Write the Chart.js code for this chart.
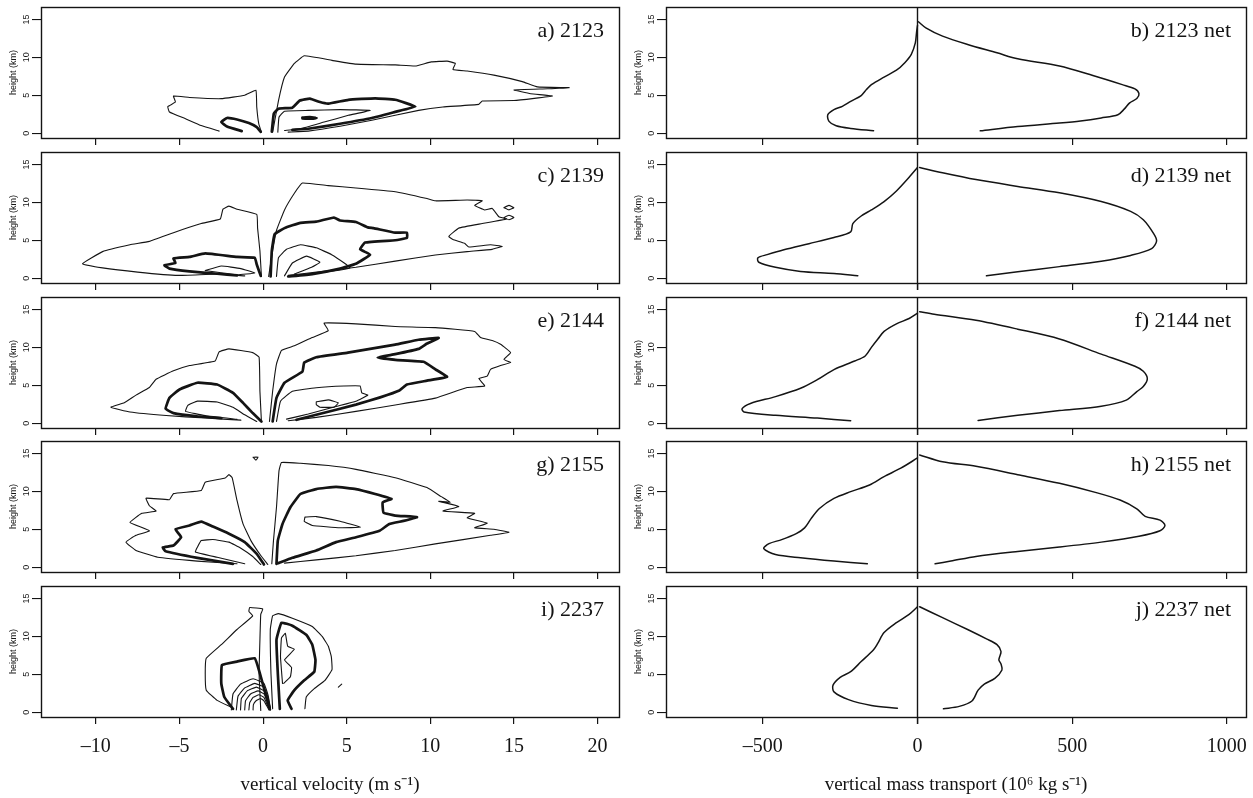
<!DOCTYPE html>
<html>
<head>
<meta charset="utf-8">
<style>
  body { margin: 0; background: #fff; width: 1253px; height: 798px; position: relative; overflow: hidden; }
  canvas { position: absolute; }
</style>
</head>
<body>
<script src="https://cdn.jsdelivr.net/npm/chart.js"></script>
<script>
// ---- axes / labels ----
const velTicks = [-10, -5, 0, 5, 10, 15, 20];
const massTicks = [-500, 0, 500, 1000];
const heightTicks = [0, 5, 10, 15];
const velRange = [-13.28, 21.28];
const massRange = [-813, 1062];
const heightRange = [-0.64, 16.64];
const leftLabels = ['a) 2123', 'c) 2139', 'e) 2144', 'g) 2155', 'i) 2237'];
const rightLabels = ['b) 2123 net', 'd) 2139 net', 'f) 2144 net', 'h) 2155 net', 'j) 2237 net'];

// ---- vertical velocity contours, [w (m/s), height (km)] ----
// 2123
const a_outerR = [[0.57,0.13],[0.92,4.3],[1.28,7.4],[1.87,9.2],[2.46,10.2],[4.12,9.6],[5.55,9.1],[7.9,9.0],[9.1,8.85],[10.05,9.4],[11.0,9.5],[11.5,9.2],[11.35,8.4],[12.2,8.2],[13.8,7.65],[15.5,6.8],[16.4,6.1],[18.3,6.0],[17.0,5.85],[15.0,5.7],[16.0,5.2],[17.3,4.9],[15.0,4.3],[13.1,4.25],[12.9,3.8],[10.75,3.45],[9.3,3.0],[6.5,1.7],[4.6,0.9],[2.7,0.27],[1.5,0.13]];
const a_outerL = [[-2.63,0.27],[-3.7,1.0],[-4.64,1.9],[-5.6,2.8],[-5.7,3.5],[-5.24,4.1],[-5.36,4.9],[-4.4,4.7],[-2.5,4.55],[-1.1,5.0],[-0.43,5.66],[-0.38,3.45],[-0.26,1.24],[-0.1,0.13]];
const a_thickR = [[0.52,0.2],[0.64,2.57],[0.92,3.23],[1.75,3.36],[2.2,4.3],[2.8,4.56],[3.4,4.1],[3.9,3.9],[5.1,4.4],[6.7,4.6],[7.9,4.4],[9.1,3.5],[7.9,2.8],[6.5,2.0],[4.6,1.24],[2.7,0.58],[1.75,0.44]];
const a_thinR = [[0.88,0.13],[0.95,2.1],[1.28,2.9],[2.7,3.0],[4.6,3.1],[6.4,3.0],[5.1,2.35],[3.65,1.46],[2.23,0.58],[1.28,0.35]];
const a_thickL = [[-1.28,0.27],[-2.16,0.88],[-2.5,1.46],[-2.16,2.0],[-1.56,1.8],[-0.85,1.33],[-0.38,0.8],[-0.14,0.18]];
const a_blob = [[2.35,2.05],[2.8,2.12],[3.2,2.0],[2.8,1.9],[2.35,1.95],[2.35,2.05]];
// 2139
const c_outerR = [[0.33,0.22],[0.57,3.6],[0.8,6.3],[1.28,9.0],[1.87,11.2],[2.35,12.55],[3.9,12.2],[5.55,11.9],[7.9,11.4],[9.8,10.5],[10.3,10.2],[12.2,10.3],[13.1,10.2],[12.65,9.6],[13.25,9.0],[13.7,9.2],[14.1,8.1],[14.55,7.8],[13.1,7.2],[11.7,6.6],[11.1,5.5],[11.35,5.1],[12.05,4.6],[12.3,4.1],[13.6,4.4],[14.3,4.2],[13.7,3.8],[12.2,3.5],[10.3,3.05],[7.9,2.24],[5.55,1.43],[3.2,0.8],[1.5,0.36]];
const c_outerL = [[-0.1,0.22],[-0.19,3.6],[-0.33,6.6],[-0.38,8.4],[-1.56,9.1],[-2.04,9.5],[-2.4,9.1],[-2.56,7.8],[-3.7,7.2],[-5.36,6.0],[-6.8,4.85],[-7.96,4.4],[-9.6,3.5],[-10.8,1.9],[-9.6,1.35],[-7.5,0.8],[-5.1,0.36],[-2.75,0.54],[-1.1,0.3]];
const c_thickL = [[-0.14,0.3],[-0.38,1.8],[-0.5,2.7],[-1.56,2.8],[-3.46,3.27],[-4.4,2.8],[-5.36,2.6],[-5.24,2.0],[-5.9,1.7],[-5.6,1.26],[-4.4,0.9],[-2.75,0.58],[-1.56,0.36]];
const c_thinL = [[-3.46,1.0],[-2.5,1.6],[-1.33,1.26],[-0.5,0.67],[-1.56,0.45],[-3.46,1.0]];
const c_thickR = [[0.45,0.22],[0.52,3.6],[0.69,5.8],[1.28,6.6],[2.23,7.3],[3.18,7.45],[4.24,8.0],[4.6,7.6],[5.55,7.4],[6.26,6.7],[6.6,6.6],[7.9,6.0],[8.6,6.0],[8.6,5.3],[7.9,5.0],[6.1,4.7],[5.8,3.8],[6.4,3.1],[5.55,1.9],[4.6,1.26],[2.94,0.54],[1.5,0.22]];
const c_thinR = [[0.8,0.22],[0.92,2.7],[1.4,3.8],[2.23,4.4],[3.18,4.0],[4.1,3.1],[4.85,2.0],[5.2,1.35],[4.1,0.9],[2.23,0.45]];
const c_innerR = [[1.28,0.3],[1.75,2.0],[2.6,2.9],[3.4,2.1],[2.9,1.43],[1.87,0.54]];
const c_dot1 = [[14.4,9.3],[14.7,9.6],[15.0,9.3],[14.7,9.0],[14.4,9.3]];
const c_dot2 = [[14.4,8.0],[14.7,8.3],[15.0,8.0],[14.7,7.7],[14.4,8.0]];
// 2144
const e_outerR = [[0.38,0.22],[0.57,4.2],[0.8,7.8],[1.1,9.6],[1.87,10.2],[2.94,11.3],[3.9,12.2],[3.65,13.2],[5.55,13.1],[7.9,12.75],[10.3,12.6],[12.65,12.1],[13.0,11.3],[13.7,10.9],[14.2,10.4],[14.8,9.3],[14.4,8.4],[14.8,8.0],[14.2,7.6],[13.6,7.1],[13.4,6.2],[12.9,5.9],[13.25,4.9],[12.2,4.7],[10.3,3.3],[7.9,2.4],[5.55,1.55],[3.18,0.76],[1.5,0.31]];
const e_outerL = [[-0.1,0.22],[-0.19,4.2],[-0.24,8.7],[-0.62,9.3],[-2.04,9.8],[-2.63,9.4],[-2.87,8.2],[-4.4,7.6],[-5.36,6.9],[-6.4,5.8],[-6.8,4.7],[-7.6,3.7],[-8.3,2.7],[-9.1,2.1],[-7.96,1.47],[-5.8,1.0],[-3.46,0.67],[-1.33,0.4]];
const e_thickL = [[-0.1,0.22],[-0.62,1.33],[-1.2,2.67],[-1.8,4.0],[-2.75,5.1],[-3.93,5.33],[-5.0,4.44],[-5.6,3.33],[-5.83,1.9],[-5.36,1.33],[-3.93,0.9],[-2.5,0.67]];
const e_thinL = [[-0.38,0.22],[-1.1,1.1],[-1.8,2.1],[-2.75,2.8],[-3.93,2.9],[-4.5,2.35],[-4.64,1.55],[-3.46,1.0],[-1.56,0.5]];
const e_thickR = [[0.57,0.22],[0.8,3.33],[1.28,5.33],[2.35,6.8],[2.46,8.0],[3.18,8.7],[5.07,9.3],[7.9,10.35],[9.3,11.0],[10.5,11.25],[9.8,10.5],[9.3,9.8],[7.9,9.1],[6.85,8.67],[7.9,8.35],[9.6,8.1],[10.3,7.1],[11.0,6.1],[9.8,5.6],[8.6,5.1],[8.15,4.3],[7.0,3.4],[5.55,2.44],[3.18,1.1],[2.0,0.44]];
const e_thinR = [[0.8,0.22],[1.04,2.9],[1.75,4.2],[3.18,4.67],[4.83,4.9],[5.8,4.9],[5.9,4.0],[6.26,3.7],[5.55,2.9],[4.36,2.2],[2.7,1.2],[1.4,0.53]];
const e_blob = [[3.18,2.8],[3.9,3.07],[4.5,2.67],[4.24,2.1],[3.4,2.1],[3.18,2.44],[3.18,2.8]];
// 2155
const g_outerR = [[0.52,0.44],[0.62,3.5],[0.8,7.9],[0.95,12.7],[1.1,13.8],[2.23,13.7],[3.9,13.4],[5.55,12.9],[7.9,11.8],[9.8,10.5],[10.65,9.3],[11.2,8.55],[10.5,8.7],[11.7,8.0],[10.75,7.4],[12.65,7.1],[12.2,6.5],[13.4,5.8],[12.65,5.2],[13.8,5.0],[14.7,4.6],[13.6,4.2],[10.3,3.07],[7.9,2.2],[5.55,1.5],[3.18,0.96],[1.28,0.53]];
const g_outerL = [[0.28,0.35],[-0.14,1.53],[-0.73,3.5],[-1.2,5.7],[-1.56,8.8],[-1.85,11.8],[-2.04,12.2],[-2.27,11.75],[-3.46,11.2],[-3.7,10.1],[-5.36,9.7],[-5.6,8.9],[-7.0,9.1],[-6.8,8.1],[-6.4,7.4],[-7.25,7.1],[-7.96,5.9],[-6.8,4.8],[-7.6,4.2],[-8.2,3.3],[-7.6,2.2],[-6.3,1.3],[-3.93,0.8],[-1.56,0.44]];
const g_thickL = [[0.05,0.35],[-0.38,1.75],[-1.1,3.3],[-2.04,4.4],[-3.0,5.35],[-3.7,6.0],[-4.4,5.5],[-5.24,5.0],[-4.9,3.95],[-5.36,2.85],[-6.0,2.6],[-5.83,2.1],[-3.93,1.23],[-1.8,0.44]];
const g_thinL = [[-0.14,0.35],[-0.62,1.4],[-1.33,2.5],[-2.04,3.3],[-3.0,3.64],[-3.7,3.5],[-3.93,2.63],[-4.05,2.0],[-2.75,1.3],[-1.1,0.44]];
const g_thickR = [[0.8,0.44],[0.88,3.5],[1.16,5.7],[1.63,7.9],[2.23,9.65],[3.18,10.3],[4.36,10.6],[5.55,10.3],[6.7,9.65],[7.68,9.0],[7.15,8.55],[7.2,7.2],[7.9,6.8],[9.2,6.6],[8.4,6.1],[7.55,5.7],[6.97,4.8],[5.55,3.95],[4.36,3.3],[3.18,2.2],[1.75,1.23],[0.92,0.53]];
const g_blob = [[2.5,6.6],[3.18,6.67],[4.6,6.05],[5.83,5.26],[4.6,5.2],[2.94,5.5],[2.46,6.05],[2.5,6.6]];
const g_dot = [[-0.6,14.5],[-0.3,14.5],[-0.43,14.1],[-0.6,14.5]];
// 2237
const i_outerL = [[-0.14,0.22],[-0.24,5.1],[-0.19,9.55],[-0.14,12.9],[-0.02,13.6],[-0.8,13.8],[-0.85,13.3],[-0.62,12.7],[-1.56,10.9],[-2.5,8.9],[-3.4,7.1],[-3.46,5.1],[-3.4,2.9],[-2.75,1.55],[-1.92,0.67]];
const i_thickL = [[-1.8,0.44],[-2.32,2.0],[-2.5,3.8],[-2.46,6.2],[-1.56,6.67],[-0.5,7.1],[-0.19,5.1],[0.14,2.44],[0.38,0.58]];
const i_arc1 = [[-1.9,0.3],[-1.8,2.4],[-1.35,3.7],[-0.6,4.4],[0.05,3.8],[0.3,2.2],[0.45,0.3]];
const i_arc2 = [[-1.6,0.3],[-1.5,2.1],[-1.1,3.2],[-0.5,3.8],[0.05,3.3],[0.3,1.9],[0.45,0.3]];
const i_arc3 = [[-1.35,0.3],[-1.3,1.8],[-0.95,2.8],[-0.4,3.3],[0.05,2.8],[0.28,1.6],[0.42,0.3]];
const i_arc4 = [[-1.1,0.3],[-1.05,1.5],[-0.75,2.4],[-0.3,2.8],[0.05,2.4],[0.25,1.4],[0.4,0.3]];
const i_arc5 = [[-0.85,0.3],[-0.8,1.25],[-0.6,1.95],[-0.25,2.3],[0.05,1.95],[0.22,1.1],[0.38,0.3]];
const i_arc6 = [[-0.6,0.3],[-0.58,1.0],[-0.42,1.5],[-0.15,1.8],[0.05,1.5],[0.2,0.9],[0.35,0.3]];
const i_outerR = [[0.57,0.44],[0.47,5.1],[0.43,10.9],[0.57,12.7],[0.92,13.0],[1.75,12.4],[2.94,11.3],[3.53,10.0],[3.9,8.7],[4.08,7.3],[4.12,5.6],[3.7,4.2],[3.06,3.1],[2.58,2.0],[2.5,0.44]];
const i_thickR = [[1.0,0.44],[0.88,5.1],[0.8,9.55],[1.1,11.8],[1.75,11.4],[2.58,10.2],[2.94,8.9],[3.13,6.9],[3.06,5.33],[2.46,4.2],[1.87,2.9],[1.47,1.55],[1.7,0.44]];
const i_innerR = [[1.16,3.8],[1.04,7.3],[1.1,9.8],[1.33,10.4],[1.47,8.7],[1.87,8.3],[1.28,6.9],[1.7,5.9],[1.63,4.67],[1.23,3.8]];
const i_dash = [[4.5,3.3],[4.7,3.7]];

// ---- net vertical mass transport, [10^6 kg/s, height (km)] ----
const b_down = [[-142,0.31],[-216,0.62],[-263,0.97],[-286,1.55],[-290,2.43],[-270,3.1],[-243,3.54],[-216,4.2],[-182,4.96],[-165,5.75],[-149,6.4],[-108,7.4],[-68,8.3],[-41,9.3],[-20,10.4],[-7,11.9],[-3,13.3],[0,14.2]];
const b_up = [[203,0.31],[324,0.88],[459,1.33],[527,1.6],[594,2.0],[648,2.43],[669,3.2],[686,4.0],[709,4.56],[716,5.2],[703,5.84],[662,6.4],[567,7.6],[459,8.85],[324,9.8],[257,10.6],[162,11.7],[81,12.8],[27,13.9],[3,14.7]];
const d_down = [[-193,0.31],[-270,0.62],[-378,0.89],[-459,1.43],[-513,2.1],[-516,2.68],[-486,3.1],[-432,3.75],[-351,4.55],[-270,5.36],[-216,6.1],[-209,7.2],[-182,8.2],[-149,9.0],[-108,10.1],[-68,11.5],[-27,13.3],[0,14.6]];
const d_up = [[223,0.31],[324,0.85],[459,1.52],[594,2.23],[689,3.0],[757,3.9],[773,4.9],[763,5.9],[730,7.7],[689,8.8],[594,10.1],[459,11.25],[324,12.1],[189,13.0],[81,13.9],[7,14.6]];
const f_down = [[-216,0.31],[-324,0.67],[-459,1.03],[-561,1.48],[-567,1.92],[-540,2.6],[-459,3.5],[-378,4.6],[-324,5.73],[-270,7.07],[-203,8.2],[-169,8.86],[-149,10.0],[-128,11.1],[-108,12.1],[-68,13.1],[-27,13.8],[0,14.5]];
const f_up = [[196,0.36],[324,1.03],[459,1.66],[594,2.24],[675,3.04],[709,4.16],[730,4.83],[743,5.86],[730,6.85],[703,7.5],[594,9.1],[459,11.1],[324,12.4],[189,13.56],[54,14.36],[7,14.7]];
const h_down = [[-162,0.44],[-270,0.8],[-378,1.24],[-459,1.68],[-497,2.43],[-480,3.1],[-439,3.63],[-392,4.42],[-365,5.18],[-344,6.4],[-317,7.74],[-270,9.07],[-216,9.96],[-155,10.84],[-108,11.95],[-54,13.05],[0,14.4]];
const h_up = [[57,0.44],[108,0.8],[189,1.42],[324,2.08],[459,2.65],[594,3.3],[716,4.07],[784,4.8],[800,5.5],[784,6.2],[736,6.7],[709,7.7],[655,8.85],[581,9.8],[459,11.06],[324,12.2],[189,13.3],[81,13.9],[7,14.8]];
const j_down = [[-65,0.53],[-149,0.89],[-223,1.65],[-270,2.67],[-273,3.56],[-250,4.58],[-216,5.34],[-182,6.67],[-142,8.23],[-128,9.1],[-108,10.5],[-68,11.8],[-27,12.9],[0,13.9]];
const j_up = [[84,0.44],[135,0.76],[176,1.47],[196,2.9],[216,3.7],[250,4.45],[273,5.56],[270,6.36],[263,6.9],[270,8.0],[257,8.9],[223,9.66],[162,10.9],[81,12.46],[7,13.9]];

const INK = '#141414';
const THIN = 1.1, THICK = 2.7, PROFILE = 1.5;

const leftPanels = [
  [[a_outerR, THIN], [a_outerL, THIN], [a_thinR, THIN], [a_thickR, THICK], [a_thickL, THICK], [a_blob, THICK]],
  [[c_outerR, THIN], [c_outerL, THIN], [c_thinL, THIN], [c_thinR, THIN], [c_innerR, THIN], [c_thickL, THICK], [c_thickR, THICK], [c_dot1, THIN], [c_dot2, THIN]],
  [[e_outerR, THIN], [e_outerL, THIN], [e_thinL, THIN], [e_thinR, THIN], [e_blob, THIN], [e_thickL, THICK], [e_thickR, THICK]],
  [[g_outerR, THIN], [g_outerL, THIN], [g_thinL, THIN], [g_blob, THIN], [g_dot, THIN], [g_thickL, THICK], [g_thickR, THICK]],
  [[i_outerL, THIN], [i_outerR, THIN], [i_innerR, THIN], [i_arc1, THIN], [i_arc2, THIN], [i_arc3, THIN], [i_arc4, THIN], [i_arc5, THIN], [i_arc6, THIN], [i_dash, THIN], [i_thickL, THICK], [i_thickR, THICK]]
];
const rightPanels = [
  [[b_down, PROFILE], [b_up, PROFILE]],
  [[d_down, PROFILE], [d_up, PROFILE]],
  [[f_down, PROFILE], [f_up, PROFILE]],
  [[h_down, PROFILE], [h_up, PROFILE]],
  [[j_down, PROFILE], [j_up, PROFILE]]
];

const boxTops = [7, 152, 297, 441, 586];
const BOX_H = 131;

const dash = s => String(s).replace('-', '\u2013');

// frame, panel tag, rotated y labels, zero line
const deco = {
  id: 'deco',
  afterDatasetsDraw(chart, args, o) {
    const ctx = chart.ctx, ca = chart.chartArea, y = chart.scales.y, x = chart.scales.x;
    ctx.save();
    if (o.zero) {
      const zx = Math.round(x.getPixelForValue(0)) + 0.5;
      ctx.strokeStyle = INK; ctx.lineWidth = 1.4;
      ctx.beginPath(); ctx.moveTo(zx, ca.top); ctx.lineTo(zx, o.last ? ca.bottom + 7 : chart.height); ctx.stroke();
    }
    ctx.strokeStyle = INK; ctx.lineWidth = 1.4;
    ctx.strokeRect(Math.round(ca.left) + 0.5, Math.round(ca.top) + 0.5, Math.round(ca.right - ca.left), Math.round(ca.bottom - ca.top));
    ctx.fillStyle = INK;
    ctx.font = '9px "Liberation Sans", Arial, sans-serif';
    ctx.textAlign = 'center'; ctx.textBaseline = 'middle';
    y.ticks.forEach(t => {
      ctx.save();
      ctx.translate(ca.left - 14, y.getPixelForValue(t.value));
      ctx.rotate(-Math.PI / 2);
      ctx.fillText(String(t.value), 0, 0);
      ctx.restore();
    });
    ctx.font = '22px "Liberation Serif", "Times New Roman", serif';
    ctx.textAlign = 'right'; ctx.textBaseline = 'middle';
    ctx.fillText(o.tag, ca.right - 15, ca.top + 24);
    ctx.restore();
  }
};

function makePanel(side, k, series, tag) {
  const last = k === 4;
  const isLeft = side === 'L';
  const left = isLeft ? 0 : 625;
  const width = isLeft ? 625 : 628;
  const top = boxTops[k] - 7;
  const height = last ? 798 - top : 145;
  const cv = document.createElement('canvas');
  cv.width = width; cv.height = height;
  cv.style.left = left + 'px'; cv.style.top = top + 'px';
  cv.style.width = width + 'px'; cv.style.height = height + 'px';
  document.body.appendChild(cv);

  const xr = isLeft ? velRange : massRange;
  const xt = isLeft ? velTicks : massTicks;
  const datasets = series.map(([pts, w]) => ({
    data: pts.map(p => ({ x: p[0], y: p[1] })),
    showLine: true, borderColor: INK, borderWidth: w, pointRadius: 0, fill: false,
    tension: isLeft ? 0.1 : 0.3
  }));

  new Chart(cv, {
    type: 'scatter',
    data: { datasets },
    options: {
      responsive: false, animation: false, devicePixelRatio: 1,
      layout: { padding: { top: 7, right: isLeft ? 6 : 7, left: 0, bottom: 0 } },
      elements: { line: { borderJoinStyle: 'round', borderCapStyle: 'round' } },
      plugins: {
        legend: { display: false }, tooltip: { enabled: false },
        deco: { tag, zero: !isLeft, last }
      },
      scales: {
        x: {
          type: 'linear', min: xr[0], max: xr[1],
          afterBuildTicks: s => { s.ticks = xt.map(v => ({ value: v })); },
          afterFit: s => {
            s.height = last ? 798 - (boxTops[4] + BOX_H) : 7;
            s.paddingLeft = 0; s.paddingRight = 0;
          },
          border: { display: false },
          grid: { drawOnChartArea: false, drawTicks: true, tickLength: 7, color: INK, lineWidth: 1.2 },
          ticks: {
            display: last, padding: 11, color: INK, maxRotation: 0,
            font: { family: '"Liberation Serif", "Times New Roman", serif', size: 20 },
            callback: v => dash(v)
          },
          title: {
            display: last, color: INK,
            text: isLeft ? 'vertical velocity (m s\u207B\u00B9)' : 'vertical mass transport (10\u2076 kg s\u207B\u00B9)',
            font: { family: '"Liberation Serif", "Times New Roman", serif', size: 19 },
            padding: { top: 0, bottom: 2 }
          }
        },
        y: {
          type: 'linear', min: heightRange[0], max: heightRange[1],
          afterBuildTicks: s => { s.ticks = heightTicks.map(v => ({ value: v })); },
          afterFit: s => { s.width = 41; s.paddingTop = 0; s.paddingBottom = 0; },
          border: { display: false },
          grid: { drawOnChartArea: false, drawTicks: true, tickLength: 9, color: INK, lineWidth: 1.1 },
          ticks: { display: false },
          title: {
            display: true, text: 'height (km)', color: INK,
            font: { family: '"Liberation Sans", Arial, sans-serif', size: 9 },
            padding: { top: 8, bottom: 0 }
          }
        }
      }
    },
    plugins: [deco]
  });
}

for (let k = 0; k < 5; k++) {
  makePanel('L', k, leftPanels[k], leftLabels[k]);
  makePanel('R', k, rightPanels[k], rightLabels[k]);
}
</script>
</body>
</html>
